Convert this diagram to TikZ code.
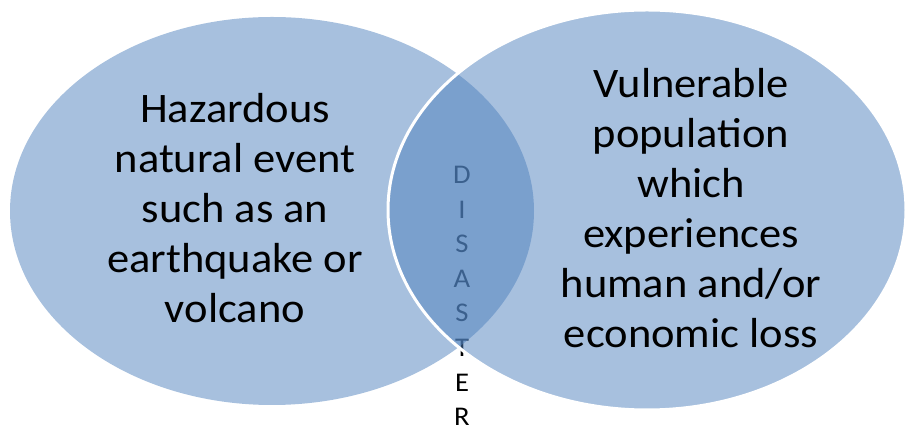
\documentclass[tikz,border=0pt]{standalone}
\usepackage{fontspec}
\setmainfont{Carlito}[FakeStretch=1.06]
\definecolor{vennblue}{HTML}{4F81BD}
\tikzset{venn/.style={fill=vennblue,fill opacity=0.5},
  bigtext/.style={align=center,inner sep=0pt,font=\fontsize{42}{50}\selectfont}}

\begin{document}
\begin{tikzpicture}[x=1pt,y=1pt]
  \useasboundingbox (0,0) rectangle (906,425);
  \node[align=center,inner sep=0pt,font=\fontsize{27}{34.6}\selectfont] (disaster) at (462,129) {D\\I\\S\\A\\S\\T\\E\\R};
  \fill[venn] (272,214) ellipse[x radius=262pt,y radius=194pt];
  \draw[venn,draw=white,line width=3pt] (647,215) ellipse[x radius=259pt,y radius=200pt];
  \node[bigtext] (hazard) at (235,217) {Hazardous\\natural event\\such as an\\earthquake or\\volcano};
  \node[bigtext] (vulnerable) at (691,216.5) {Vulnerable\\population\\which\\experiences\\human and/or\\economic loss};
\end{tikzpicture}
\end{document}
